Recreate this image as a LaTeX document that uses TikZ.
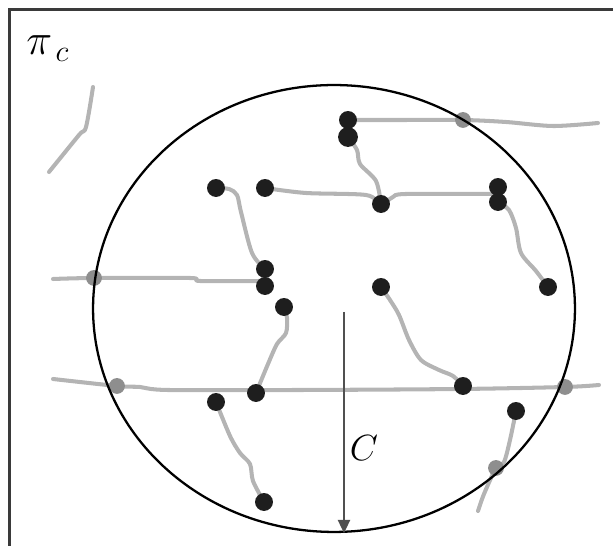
\documentclass[tikz,border=0pt]{standalone}
\usepackage{xcolor}
\definecolor{siteBlack}{HTML}{1E1E1E}
\definecolor{wireGray}{HTML}{B4B4B4}
\definecolor{crossGray}{HTML}{8E8E8E}
\definecolor{arrowGray}{HTML}{505050}
\definecolor{frameGray}{HTML}{3A3A3A}
\usetikzlibrary{shapes.geometric,arrows.meta,backgrounds}
\tikzset{
    site/.style={
        circle,
        fill=siteBlack,
        inner sep=0pt,
        minimum size=10.2pt
    },
    crossing/.style={
        circle,
        fill=crossGray,
        inner sep=0pt,
        minimum size=9pt
    },
    wire/.style={
        draw=wireGray,
        line width=2.3pt,
        line cap=round,
        line join=round
    },
    zone/.style={
        draw=black,
        ellipse,
        line width=1.3pt,
        inner sep=0pt,
        minimum width=9.64cm,
        minimum height=8.94cm
    },
    frame/.style={
        draw=frameGray,
        line width=1.5pt
    },
    reach/.style={
        -{Triangle[width=7pt,length=7.5pt]},
        line width=0.8pt,
        color=arrowGray
    },
    tag/.style={
        inner sep=0pt,
        font=\fontsize{22}{26}\selectfont
    }
}

\begin{document}
\begin{tikzpicture}[x=0.02cm, y=-0.02cm]
    \useasboundingbox (0,0) rectangle (613,546);
    \draw[frame] (9.5,546) -- (9.5,9.5) -- (613,9.5);
    \node[tag, anchor=base west, font=\fontsize{27}{30}\selectfont] (pic) at (26,55) {$\pi_{\,c}$};

    % sites
    \node[site] (p1) at (348,120) {};
    \node[site, minimum size=11.3pt] (p2) at (348,137) {};
    \node[site] (p3) at (216,188) {};
    \node[site] (p4) at (265,188) {};
    \node[site] (p5) at (381,204) {};
    \node[site] (p6) at (498,187) {};
    \node[site] (p7) at (498,202) {};
    \node[site] (p8) at (265,269) {};
    \node[site] (p9) at (265,286) {};
    \node[site] (p10) at (284,307) {};
    \node[site] (p11) at (381,287) {};
    \node[site] (p12) at (548,287) {};
    \node[site] (p13) at (256,393) {};
    \node[site] (p14) at (216,402) {};
    \node[site] (p15) at (463,386) {};
    \node[site] (p16) at (516,411) {};
    \node[site] (p17) at (264,502) {};

    % crossings on the rim
    \node[crossing] (x1) at (463,120) {};
    \node[crossing] (x2) at (94,278) {};
    \node[crossing] (x3) at (117,386) {};
    \node[crossing] (x4) at (565,387) {};
    \node[crossing] (x5) at (496,468) {};

    \node[zone] (zone) at (334,308.5) {};

    % free ends
    \coordinate (e1) at (598,123);
    \coordinate (e2) at (53,279);
    \coordinate (e3) at (53,379);
    \coordinate (e4) at (599,385);
    \coordinate (e5) at (478,511);
    \coordinate (e6) at (93,87);
    \coordinate (e7) at (49,172);
    \coordinate (j1) at (497,194);
    \coordinate (j2) at (262,281);

    \begin{scope}[on background layer]
        \draw[wire] plot[smooth, tension=0.5] coordinates {(p1.center) (400,120) (x1.center) (506,122) (553,126) (e1)};
        \draw[wire] plot[smooth, tension=0.5] coordinates {(p2.center) (357,150) (360,164) (376,181) (p5.center)};
        \draw[wire] plot[smooth, tension=0.5] coordinates {(p4.center) (306,193) (366,195) (p5.center) (393,197) (406,194) (j1)};
        \draw[wire] plot[smooth, tension=0.5] coordinates {(p7.center) (509,210) (516,228) (521,253) (536,271) (p12.center)};
        \draw[wire] plot[smooth, tension=0.5] coordinates {(p3.center) (229,189) (237,195) (241,212) (252,253) (p8.center)};
        \draw[wire] plot[smooth, tension=0.5] coordinates {(e2) (x2.center) (190,278) (200,281) (j2)};
        \draw[wire] plot[smooth, tension=0.5] coordinates {(p10.center) (287,318) (286,333) (277,344) (268,364) (p13.center)};
        \draw[wire] plot[smooth, tension=0.5] coordinates {(e3) (x3.center) (140,387) (168,390) (300,390) (460,389) (x4.center) (e4)};
        \draw[wire] plot[smooth, tension=0.5] coordinates {(p11.center) (390,300) (399,315) (409,340) (421,360) (439,370) (453,376) (p15.center)};
        \draw[wire] plot[smooth, tension=0.5] coordinates {(p14.center) (230,436) (240,453) (250,464) (253,481) (p17.center)};
        \draw[wire] plot[smooth, tension=0.5] coordinates {(p16.center) (510,440) (504,462) (x5.center) (484,494) (e5)};
        \draw[wire] plot[smooth, tension=0.5] coordinates {(e6) (86,127) (79,135) (e7)};
    \end{scope}

    \coordinate (rtop) at (344,312);
    \draw[reach] (rtop) -- (rtop |- zone.south);
    \node[tag, font=\fontsize{21}{25}\selectfont] (rlabel) at (364,448) {$C$};
\end{tikzpicture}
\end{document}
